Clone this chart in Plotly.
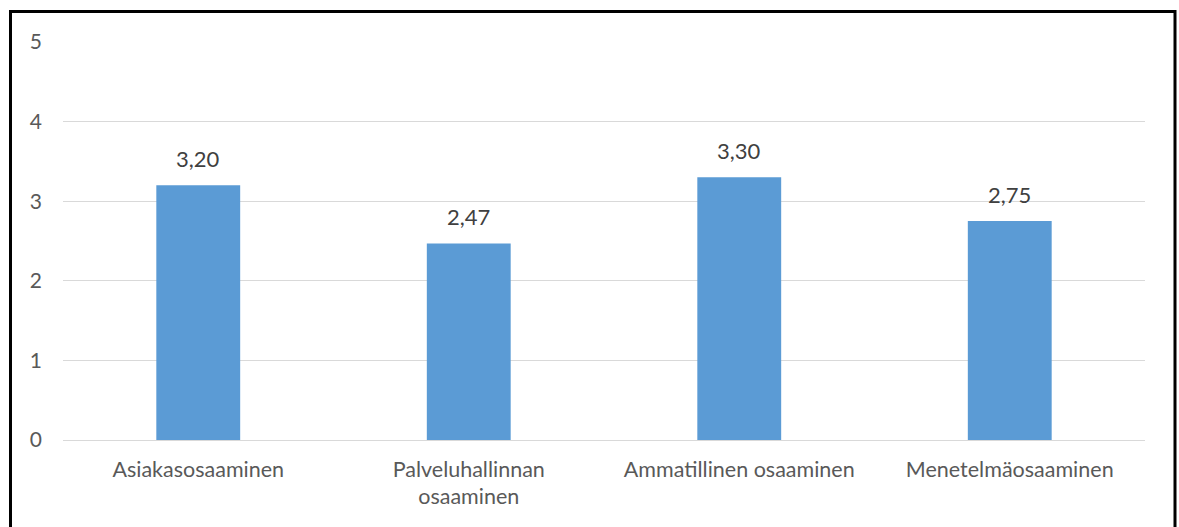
import plotly.graph_objects as go

categories = ["Asiakasosaaminen", "Palveluhallinnan<br>osaaminen", "Ammatillinen osaaminen", "Menetelmäosaaminen"]
values = [3.20, 2.47, 3.30, 2.75]
value_labels = [f"{v:.2f}".replace(".", ",") for v in values]
y_ticks = [0, 1, 2, 3, 4, 5]

W, H = 1179, 527
L, R, T, B = 63, 34, 42, 87
pw, ph = W - L - R, H - T - B
FONT = "Lato, Open Sans, sans-serif"

def px_to_paper_x(px):
    return (px - L) / pw

def px_to_paper_y(py):
    return (H - B - py) / ph

fig = go.Figure(go.Bar(
    x=categories, y=values,
    marker=dict(color="#5B9BD5", line=dict(width=0)),
    width=0.31,
    hoverinfo="x+y",
))

for c, v, t in zip(categories, values, value_labels):
    fig.add_annotation(x=c, y=v, text=t, showarrow=False, yanchor="bottom",
                       yshift=11, font=dict(family=FONT, size=22, color="#404040"))

fig.update_layout(
    width=W, height=H,
    margin=dict(l=L, r=R, t=T, b=B),
    paper_bgcolor="white", plot_bgcolor="white",
    showlegend=False,
    font=dict(family=FONT, size=21, color="#595959"),
    xaxis=dict(showgrid=False, showline=False, ticks="",
               tickfont=dict(family=FONT, size=21.5, color="#595959")),
    yaxis=dict(range=[0, 5], tickvals=y_ticks, showgrid=True, gridcolor="#D9D9D9", gridwidth=1,
               zeroline=True, zerolinecolor="#D9D9D9", zerolinewidth=1,
               ticks="", ticklen=0, tickfont=dict(family=FONT, size=21, color="#595959")),
    shapes=[dict(type="rect", xref="paper", yref="paper",
                 x0=px_to_paper_x(10.5), x1=px_to_paper_x(1175),
                 y0=px_to_paper_y(545), y1=px_to_paper_y(11.5),
                 line=dict(color="black", width=3), fillcolor="rgba(0,0,0,0)", layer="above")],
)
fig.update_yaxes(ticklabelstandoff=20)
fig.update_xaxes(ticklabelstandoff=14)

fig.write_html("out.html")
